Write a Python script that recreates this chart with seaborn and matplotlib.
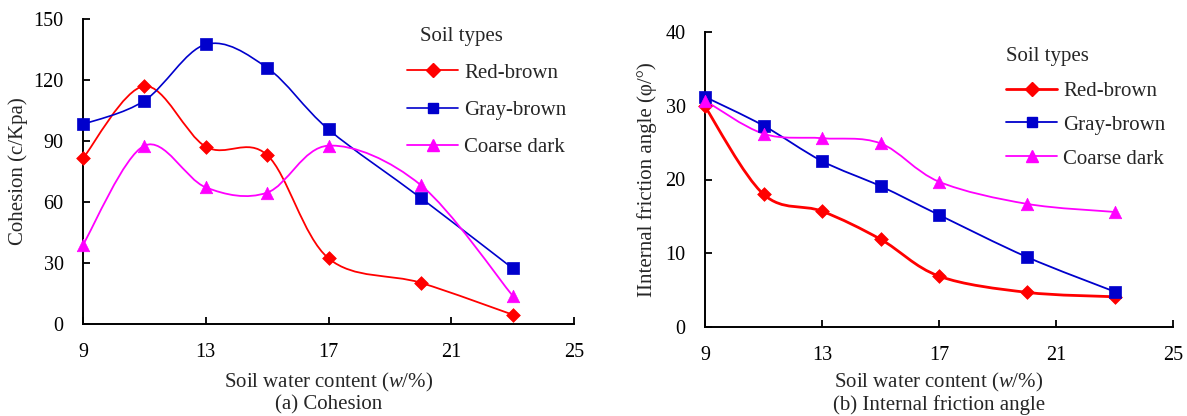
import numpy as np
import pandas as pd
import seaborn as sns
import matplotlib
matplotlib.use("Agg")
import matplotlib.pyplot as plt
from matplotlib.path import Path
from matplotlib.patches import PathPatch
from matplotlib.lines import Line2D
from matplotlib.transforms import blended_transform_factory

# ---------------- data ----------------
water = [9, 11, 13, 15, 17, 20, 23]
series_names = ["Red-brown", "Gray-brown", "Coarse dark"]

cohesion_red = [81.5, 117, 87.2, 83.1, 32.3, 20.3, 4.6]
cohesion_gray = [98.2, 109.8, 137.5, 126, 95.7, 62.1, 27.4]
cohesion_pink = [39, 87.7, 67.2, 64.6, 87.7, 68.4, 13.9]

friction_red = [29.9, 18.0, 15.7, 11.9, 6.9, 4.7, 4.1]
friction_gray = [31.2, 27.3, 22.5, 19.1, 15.2, 9.5, 4.8]
friction_pink = [30.7, 26.2, 25.6, 24.9, 19.7, 16.7, 15.6]

x_ticks = [9, 13, 17, 21, 25]
cohesion_ticks = [0, 30, 60, 90, 120, 150]
friction_ticks = [0, 10, 20, 30, 40]

colors = {"Red-brown": "#FF0000", "Gray-brown": "#0000CC", "Coarse dark": "#FF00FF"}
markers = {"Red-brown": "D", "Gray-brown": "s", "Coarse dark": "^"}
msize = {"Red-brown": 7, "Gray-brown": 8, "Coarse dark": 9}

# ---------------- style ----------------
sns.set_theme(style="ticks")
plt.rcParams["font.family"] = ["Liberation Serif", "DejaVu Serif"]
plt.rcParams["mathtext.fontset"] = "custom"
plt.rcParams["mathtext.rm"] = "Liberation Serif"
plt.rcParams["mathtext.it"] = "Liberation Serif:italic"
plt.rcParams["axes.linewidth"] = 1.4
FS = 15
TFS = 14.5
W, H = 1187, 416


def smooth_path(xs, ys):
    """Excel-like smoothed line drawn as cubic Bezier segments through the data."""
    pts = np.column_stack([xs, ys]).astype(float)
    n = len(pts)
    verts = [pts[0]]
    codes = [Path.MOVETO]
    for i in range(n - 1):
        p0 = pts[i - 1] if i > 0 else pts[i]
        p1 = pts[i]
        p2 = pts[i + 1]
        p3 = pts[i + 2] if i + 2 < n else pts[i + 1]
        c1 = p1 + (p2 - p0) / 6.0
        c2 = p2 - (p3 - p1) / 6.0
        verts += [c1, c2, p2]
        codes += [Path.CURVE4] * 3
    return Path(verts, codes)


fig = plt.figure(figsize=(W / 100, H / 100), dpi=100)
axL = fig.add_axes([83 / W, 1 - 324 / H, (574 - 83) / W, (324 - 19) / H])
axR = fig.add_axes([705 / W, 1 - 327 / H, (1173 - 705) / W, (327 - 32) / H])


def draw(ax, data, lw, yticks, ylabel):
    df = pd.DataFrame({
        "w": water * 3,
        "v": sum(data, []),
        "soil": sum([[s] * len(water) for s in series_names], []),
    })
    for name, ys in zip(series_names, data):
        ax.add_patch(PathPatch(smooth_path(water, ys), facecolor="none",
                               edgecolor=colors[name], lw=lw[name], zorder=2))
        sub = df[df["soil"] == name]
        sns.scatterplot(data=sub, x="w", y="v", ax=ax, color=colors[name],
                        marker=markers[name], s=msize[name] ** 2,
                        edgecolor=colors[name], linewidth=0.5, zorder=3,
                        legend=False, clip_on=False)
    ax.set_xlim(9, 25)
    ax.set_ylim(yticks[0], yticks[-1])
    ax.set_xticks(x_ticks)
    ax.set_yticks(yticks)
    ax.tick_params(labelsize=TFS, length=5, width=1.3, colors="black",
                   direction="in", pad=14)
    ax.set_xlabel("")
    ax.set_ylabel(ylabel, fontsize=FS)
    for s in ["top", "right"]:
        ax.spines[s].set_visible(False)
    for s in ["left", "bottom"]:
        ax.spines[s].set_color("black")
    handles = [Line2D([], [], color=colors[n], lw=lw[n], marker=markers[n],
                      markersize=msize[n] * 0.95, markeredgecolor=colors[n])
               for n in series_names]
    return handles


hL = draw(axL, [cohesion_red, cohesion_gray, cohesion_pink],
          {"Red-brown": 1.3, "Gray-brown": 1.2, "Coarse dark": 1.3},
          cohesion_ticks, "Cohesion (c/Kpa)")
hR = draw(axR, [friction_red, friction_gray, friction_pink],
          {"Red-brown": 2.0, "Gray-brown": 1.3, "Coarse dark": 1.3},
          friction_ticks, "IInternal friction angle (φ/°)")

for ax, x in [(axL, 18), (axR, 647)]:
    ax.yaxis.set_label_coords(x / W, 0.5)
    ax.yaxis.label.set_transform(blended_transform_factory(fig.transFigure, ax.transAxes))
    ax.yaxis.label.set_verticalalignment("center")
    ax.yaxis.label.set_horizontalalignment("center")

# legends (title drawn as separate text so it can sit where the reference has it)
for h, ax, hx, cy, tx, ty, sp in [(hL, axL, 407, 110, 420, 36, 0.85),
                                  (hR, axR, 1006, 125, 1006, 57, 0.68)]:
    leg = ax.legend(h, series_names, loc="center left",
                    bbox_to_anchor=(hx / W, 1 - cy / H),
                    bbox_transform=fig.transFigure, frameon=False, fontsize=FS,
                    handlelength=2.45, handletextpad=0.3,
                    labelspacing=sp, borderaxespad=0, borderpad=0)
    fig.text(tx / W, 1 - ty / H, "Soil types", ha="left", va="center", fontsize=FS)

for ax, cx, sub in [(axL, (83 + 574) / 2, "(a) Cohesion"),
                    (axR, (705 + 1173) / 2, "(b) Internal friction angle")]:
    fig.text(cx / W, 1 - 382 / H, "Soil water content ($w$/%)", ha="center", va="center", fontsize=FS)
    fig.text(cx / W, 1 - 405 / H, sub, ha="center", va="center", fontsize=FS)

fig.savefig("out.png", dpi=100)
